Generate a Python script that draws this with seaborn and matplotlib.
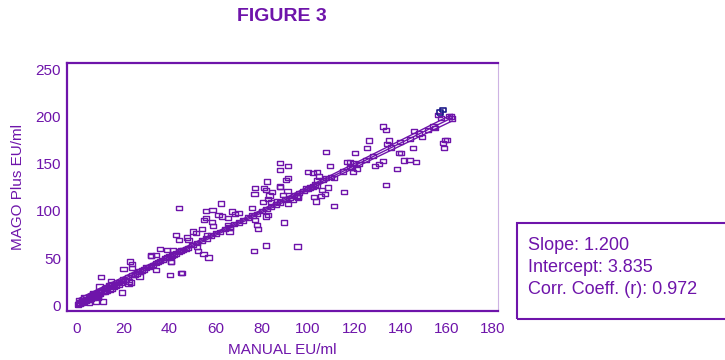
import numpy as np
import pandas as pd
import matplotlib
matplotlib.use("Agg")
import matplotlib.pyplot as plt
from matplotlib.patches import Rectangle
import seaborn as sns

# -----------------------------
# DATA
# -----------------------------
manual_low = [0.5, 1, 1.5, 2, 2, 2.5, 3, 3, 3.5, 4, 4, 4.5, 5, 5, 5.5, 6, 6, 6.5, 7, 7,
              7.5, 8, 8, 8.5, 9, 9, 9.5, 10, 10, 11, 11, 12, 12, 13, 13, 14, 14, 15, 15, 16,
              16, 17, 18, 18, 19, 20, 1, 3, 5, 7, 9, 8.3, 11.2, 10.3, 9.7, 14.8, 16.6, 19.3]
mago_low = [1, 2, 3, 3, 5, 4, 4, 6, 5, 5, 7, 6, 6, 9, 8, 7, 10, 9, 8, 11,
            10, 9, 12, 11, 10, 14, 12, 12, 15, 14, 16, 15, 18, 16, 19, 17, 21, 18, 22, 20,
            23, 22, 22, 25, 24, 26, 6, 9, 3, 13, 8, 4, 4, 30, 20, 26, 20.6, 13.6]

manual_mid = [20, 21, 22, 24, 25, 26, 27, 28, 29, 30, 31, 32, 33, 34, 35, 36, 37, 38, 39, 40,
              41, 42, 43, 44, 45, 46, 47, 48, 50, 52, 54, 56, 58, 60, 62, 64, 66, 68, 70, 72,
              74, 76, 78, 80, 82, 84, 86, 88, 90, 92, 94,
              27, 23, 23.7, 20.1, 22.3, 23.2, 40.6, 40.3, 44.9, 44.3, 31.9, 36, 38.8, 41.7, 50.1,
              42.9, 47.5, 44.3, 32.1, 34.3, 40.7, 34.3, 23.9, 22.4]
mago_mid = [28, 27, 30, 32, 33, 34, 36, 37, 38, 40, 41, 42, 43, 45, 46, 47, 48, 50, 51, 52,
            53, 54, 55, 57, 58, 59, 60, 61, 64, 66, 69, 71, 74, 76, 78, 81, 83, 86, 88, 90,
            93, 95, 97, 100, 102, 104, 107, 109, 112, 114, 117,
            30.6, 46.4, 44, 38.7, 22.8, 24.2, 46.4, 32, 34.2, 103, 52.5, 59.6, 58.8, 58.8, 78.2,
            74.4, 72, 69.4, 52.8, 53.4, 45.8, 37.4, 39.4, 25.3]

manual_upper = [82.4, 90.5, 91.5, 77.1, 81, 81.8, 84.3, 87.9, 91.1, 89.3, 95.1, 95.8, 76.8, 83.3,
                82.8, 80.4, 83.8, 91.5, 86.5, 62.2, 75.9, 67, 68.4, 69.9, 55.9, 58.6, 61.2, 62.7,
                55, 55.9, 58.3, 59, 65.3, 65.5, 66.3, 66, 77.1, 77.8, 78.5, 81.8, 82.8, 89.6, 81.8,
                76.7, 95.4, 54, 51.5, 56.2, 48.2, 51.8, 52.5, 54.7, 56.9, 45.3,
                132.3, 133.8, 126.4, 135.2, 134.3, 125.4, 120.5, 107.7, 139.5, 116.8, 118.2, 119.9,
                118.2, 118.9, 121.1, 119.4, 129, 130.9, 132.3, 138.7, 133.8, 109.6, 99.9, 102,
                103.8, 104.9, 103.8, 106.4, 107.8, 111.3, 108.6, 105.9, 105.5, 107.4, 102.6, 103.5,
                115.7, 111.3, 95.4, 87.9, 87.9, 91.5, 87.9, 93.3,
                156.5, 161.2, 161.8, 157.5, 159.3, 160.1, 159, 154.3, 155, 145.9, 149.2, 145.3,
                140.2, 141.6, 143.9, 146.7, 158.4, 162.5,
                96, 98, 99, 100, 101, 102, 103, 104, 110, 115, 122, 125, 128, 136, 140, 144, 148, 152]
mago_upper = [131.2, 133, 134.8, 124.2, 124.2, 122.4, 119.9, 125.3, 121.4, 117.1, 116.4, 114.2, 118.2, 116.4,
              112.9, 109.4, 109.4, 107.9, 110, 107.9, 103, 99.5, 96.7, 97.7, 100.2, 101.2, 95.9, 94.1,
              90.6, 92.4, 88.2, 84.3, 92.4, 85.3, 81.8, 77.6, 90.6, 85.3, 81.1, 94.1, 95.9, 87.8, 63.4,
              57.8, 62.3, 81.1, 76.5, 74.7, 69.4, 62.3, 57.8, 54.3, 50.7, 34.2,
              189.4, 186, 174.6, 174.6, 171.1, 166.6, 161.3, 162.7, 161.3, 151.6, 151.6, 150.7,
              146.6, 145.4, 144.3, 141.1, 147.8, 149.6, 153.1, 144.3, 127.7, 147.8, 141.1, 140.1,
              141.1, 136.6, 132.4, 133, 134.8, 134.8, 124.9, 122, 116, 118.2, 114.7, 110,
              120, 105, 114.7, 150.7, 143.6, 147.8, 125.9, 111.8,
              201.8, 200.8, 200.1, 198.4, 175.4, 175.4, 166.6, 189.4, 187.8, 184.9, 178.2, 166.6,
              161.3, 153.5, 154.2, 151.7, 172, 198,
              119, 121, 124, 123, 125, 126, 128, 127, 136, 142, 150, 154, 158, 167, 173, 176, 182, 186]

highlight_x = [158.6, 157.2]
highlight_y = [207.1, 204.3]

slope = 1.200
intercept = 3.835
corr_r = 0.972

x_all = np.array(manual_low + manual_mid + manual_upper + highlight_x, dtype=float)
y_all = np.array(mago_low + mago_mid + mago_upper + highlight_y, dtype=float)
df = pd.DataFrame({"manual": x_all, "mago": y_all})

# -----------------------------
# REGRESSION LINE + 95% BAND
# -----------------------------
n = len(df)
xm = df["manual"].mean()
sxx = ((df["manual"] - xm) ** 2).sum()
resid = df["mago"] - (slope * df["manual"] + intercept)
se = np.sqrt((resid ** 2).sum() / (n - 2))
xs = np.linspace(df["manual"].min(), df["manual"].max(), 100)
fit = slope * xs + intercept
hw = 1.97 * se * np.sqrt(1 / n + (xs - xm) ** 2 / sxx)
lines = pd.DataFrame({"x": np.tile(xs, 3),
                      "y": np.concatenate([fit, fit - hw, fit + hw]),
                      "which": ["fit"] * 100 + ["lo"] * 100 + ["hi"] * 100})

# -----------------------------
# PLOT
# -----------------------------
PURPLE = "#6e14aa"
NAVY = "#1c1a8a"

sns.set_style("white")
plt.rcParams["font.family"] = ["Liberation Sans", "DejaVu Sans"]

fig = plt.figure(figsize=(7.25, 3.6), dpi=100)
ax = fig.add_axes([0.092, 0.137, 0.595, 0.689])

rect_marker = [(-1.4, -1), (1.4, -1), (1.4, 1), (-1.4, 1), (-1.4, -1)]

sns.lineplot(data=lines, x="x", y="y", units="which", estimator=None,
             color=PURPLE, linewidth=1.0, ax=ax)
sns.scatterplot(data=df.iloc[:-2], x="manual", y="mago", marker=rect_marker, s=20,
                facecolor="none", edgecolor=PURPLE, linewidth=1.0, ax=ax, zorder=3)
sns.scatterplot(x=highlight_x, y=highlight_y, marker=rect_marker, s=20,
                facecolor="none", edgecolor=NAVY, linewidth=1.2, ax=ax, zorder=4)

ax.set_xlim(-4.5, 182.3)
ax.set_ylim(-5.5, 257)
ax.set_xticks(np.arange(0, 181, 20))
ax.set_xticks(np.arange(0, 181, 5), minor=True)
ax.set_yticks(np.arange(0, 251, 50))
ax.set_yticks(np.arange(0, 251, 10), minor=True)

ax.tick_params(axis="both", which="major", direction="in", length=6.5, width=1.5,
               color=PURPLE, labelcolor=PURPLE, labelsize=11)
ax.tick_params(axis="both", which="minor", direction="in", length=3.5, width=1.5,
               color=PURPLE)
ax.tick_params(axis="x", which="major", pad=8)
ax.tick_params(axis="y", which="major", pad=4)

for side in ["left", "bottom", "top"]:
    ax.spines[side].set_color(PURPLE)
    ax.spines[side].set_linewidth(1.6)
ax.spines["right"].set_color("#cdb3e3")
ax.spines["right"].set_linewidth(0.8)

ax.set_xlabel("MANUAL EU/ml", color=PURPLE, fontsize=11, labelpad=5)
ax.set_ylabel("MAGO Plus EU/ml", color=PURPLE, fontsize=11, labelpad=8)

fig.text(0.389, 0.953, "FIGURE 3", color=PURPLE, fontsize=14, fontweight="bold",
         ha="center", va="center")

# stats box
fig.patches.append(Rectangle((0.713, 0.114), 0.35, 0.267, transform=fig.transFigure,
                             fill=False, edgecolor=PURPLE, linewidth=1.5))
stats_lines = ["Slope: %.3f" % slope, "Intercept: %.3f" % intercept,
               "Corr. Coeff. (r): %.3f" % corr_r]
for i, txt in enumerate(stats_lines):
    fig.text(0.728, 0.317 - i * 0.061, txt, color=PURPLE, fontsize=13,
             ha="left", va="center")

fig.savefig("out.png", dpi=100)
